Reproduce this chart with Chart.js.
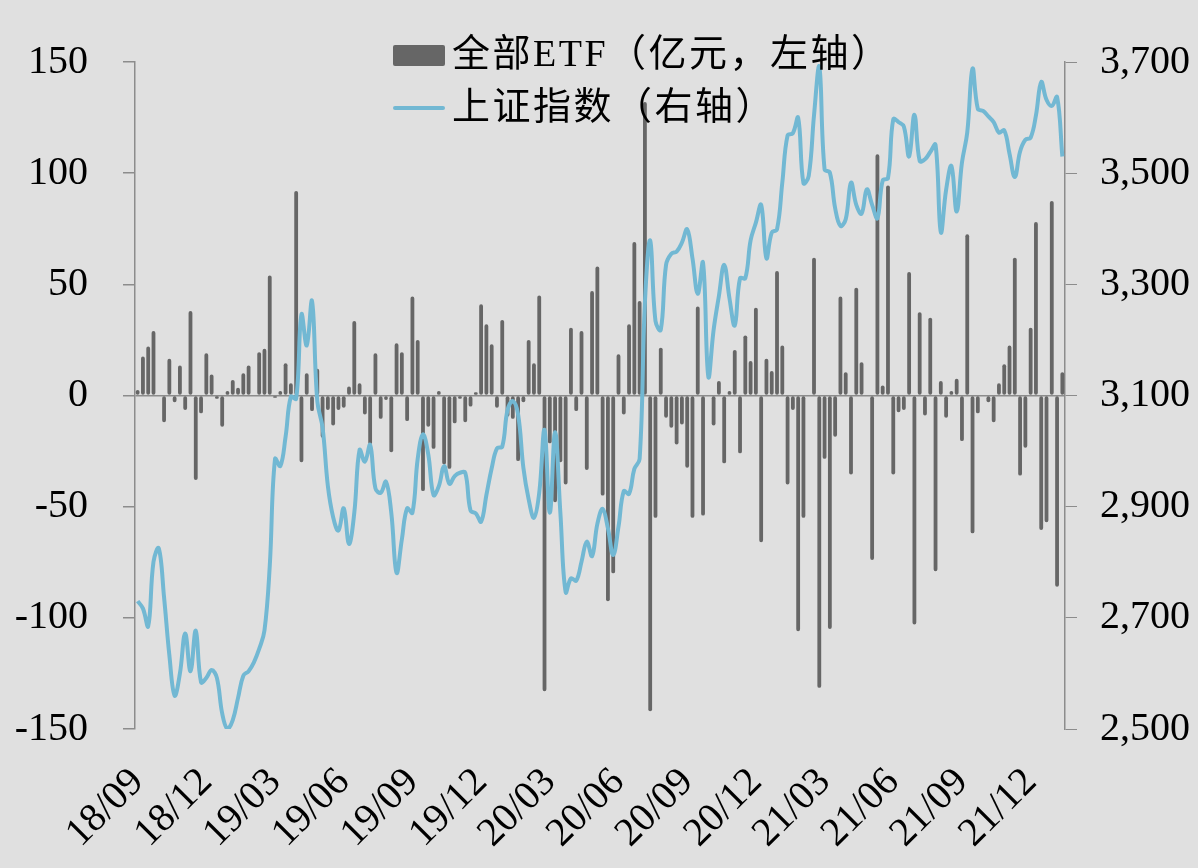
<!DOCTYPE html>
<html>
<head>
<meta charset="utf-8">
<script src="https://cdn.jsdelivr.net/npm/chart.js@4/dist/chart.umd.min.js"></script>
<style>
  body { margin: 0; background: #e0e0e0; }
  canvas { display: block; }
</style>
</head>
<body>
<canvas id="etfChart" width="1198" height="868"></canvas>
<script>
// 季度标签，每13周一个
const tickLabels = ['18/09', '18/12', '19/03', '19/06', '19/09', '19/12', '20/03',
  '20/06', '20/09', '20/12', '21/03', '21/06', '21/09', '21/12'];

// 全部ETF周度净流入（亿元）
const etfFlow = [
  2.5, 17.5, 22, 29, 0, -12, 16.5, -3, 13.5, -6.5,
  38, -38, -8, 19, 9.5, -1.5, -14, 2, 7, 3.5,
  10, 13.5, 0, 19.5, 21, 54, -1, 2, 14.5, 5.5,
  92, -30, 10, -7, 12, -19, -6.5, -13.5, -6.5, -5.5,
  4, 33.5, 5.5, -8.5, -22, 19, -10.5, -2, -25.5, 23.5,
  19.5, -11.5, 44.5, 25, -43, -14, -24, 2, -31, -33,
  -12.5, -1.5, -12, -5, 1.5, 41, 32, 23, -5.5, 34,
  -9.5, -10.5, -29.5, -3, 25, 14.5, 45, -133, -21.5, -48,
  -30, -40, 30.5, -7, 29, -33.5, 47, 58, -45, -92.5,
  -80, 18.5, -8.5, 32, 69, 42.5, 132, -142, -55, 21.5,
  -10, -14.5, -22, -13, -32.5, -55, 40, -54, 0, -13.5,
  6.5, -30.5, 2, 20.5, -26, 27, 15.5, 39.5, -66, 16.5,
  11, 56, 22.5, -40, -6.5, -106, -55, 0, 62, -131.5,
  -28.5, -105, -18.5, 44.5, 10.5, -35.5, 48.5, 15, 0, -74,
  108.5, 4.5, 94.5, -35.5, -7.5, -6.5, 55.5, -103, 37.5, -9,
  35, -79, 6.5, -10, 2, 7.5, -20.5, 72.5, -62, -8,
  0, -3, -12, 5.5, 14, 22.5, 62, -36, -23.5, 30.5,
  78, -60.5, -57, 87.5, -86, 10.5
];

// 上证指数周收盘
const shIndex = [
  2730, 2717, 2685, 2801, 2825, 2737, 2633, 2560, 2600, 2672,
  2604, 2677, 2584, 2592, 2606, 2592, 2528, 2500, 2516, 2556,
  2596, 2604, 2620, 2644, 2677, 2793, 2986, 2973, 3026, 3098,
  3094, 3246, 3190, 3270, 3090, 3042, 2937, 2881, 2857, 2897,
  2833, 2889, 3002, 2981, 3011, 2933, 2925, 2945, 2889, 2781,
  2841, 2897, 2889, 2986, 3030, 2994, 2921, 2937, 2973, 2941,
  2955, 2961, 2961, 2893, 2888, 2873, 2921, 2969, 3005, 3008,
  3074, 3090, 3066, 2970, 2913, 2880, 2925, 3038, 2889, 3034,
  2889, 2746, 2771, 2767, 2801, 2837, 2811, 2869, 2896, 2861,
  2813, 2864, 2928, 2923, 2968, 2986, 3267, 3379, 3234, 3218,
  3335, 3355, 3359, 3375, 3399, 3347, 3283, 3339, 3134, 3218,
  3279, 3335, 3275, 3226, 3311, 3311, 3379, 3411, 3443, 3347,
  3393, 3399, 3483, 3568, 3572, 3600, 3482, 3495, 3604, 3692,
  3507, 3501, 3437, 3405, 3417, 3483, 3443, 3427, 3471, 3443,
  3419, 3487, 3491, 3597, 3592, 3584, 3530, 3605, 3522, 3525,
  3538, 3551, 3394, 3470, 3513, 3431, 3519, 3573, 3688, 3616,
  3612, 3602, 3592, 3573, 3577, 3535, 3493, 3539, 3560, 3564,
  3604, 3664, 3632, 3621, 3637, 3530
];

const weeks = etfFlow.map((_, i) => (i % 13 === 0 ? tickLabels[i / 13] : ''));

const axisGray = '#8c8c8c';
const tickFont = { family: "'Liberation Serif', 'Times New Roman', serif", size: 40 };

// 整张画布的灰色底
const background = {
  id: 'background',
  beforeDraw(chart) {
    const { ctx, width, height } = chart;
    ctx.save();
    ctx.fillStyle = '#e0e0e0';
    ctx.fillRect(0, 0, width, height);
    ctx.restore();
  }
};

// 图例画在绘图区内，两行竖排
const stackedLegend = {
  id: 'stackedLegend',
  afterDatasetsDraw(chart) {
    const { ctx, chartArea } = chart;
    const [line, bars] = chart.data.datasets;
    const x = chartArea.left + 258;
    ctx.save();
    ctx.font = "38px 'Liberation Serif', 'Noto Sans CJK SC'";
    ctx.letterSpacing = '2.5px';
    ctx.textBaseline = 'middle';

    ctx.fillStyle = bars.backgroundColor;
    ctx.beginPath();
    ctx.roundRect(x, 45, 52, 21, 2);
    ctx.fill();
    ctx.fillStyle = '#000';
    ctx.fillText(bars.label, x + 59, 56);

    ctx.strokeStyle = line.borderColor;
    ctx.lineWidth = 4;
    ctx.lineCap = 'round';
    ctx.beginPath();
    ctx.moveTo(x + 2, 108);
    ctx.lineTo(x + 50, 108);
    ctx.stroke();
    ctx.fillText(line.label, x + 59, 109);
    ctx.restore();
  }
};

new Chart(document.getElementById('etfChart'), {
  data: {
    labels: weeks,
    datasets: [
      {
        type: 'line',
        label: '上证指数（右轴）',
        data: shIndex,
        yAxisID: 'y2',
        borderColor: '#72b8d3',
        borderWidth: 4,
        pointRadius: 0,
        tension: 0.4,
        order: 0
      },
      {
        type: 'bar',
        label: '全部ETF（亿元，左轴）',
        data: etfFlow,
        yAxisID: 'y',
        backgroundColor: '#666666',
        categoryPercentage: 1,
        barPercentage: 0.72,
        borderRadius: 2,
        borderSkipped: false,
        order: 1
      }
    ]
  },
  options: {
    responsive: false,
    animation: false,
    layout: { padding: { left: 15, right: 6, top: 62, bottom: 0 } },
    plugins: {
      legend: { display: false },
      tooltip: { enabled: false }
    },
    scales: {
      x: {
        grid: { display: false, drawTicks: false },
        border: { display: false },
        ticks: {
          autoSkip: false,
          minRotation: 45,
          maxRotation: 45,
          padding: 30,
          color: '#000',
          font: tickFont,
          callback: (value, i) => weeks[i]
        },
        // 斜排标签不额外占用左右边距，底部留固定高度
        afterFit(scale) {
          scale.paddingLeft = 0;
          scale.paddingRight = 0;
          scale.height = 139;
        }
      },
      y: {
        position: 'left',
        min: -150,
        max: 150,
        ticks: { stepSize: 50, padding: 35, color: '#000', font: tickFont },
        grid: {
          color: (c) => (c.tick && c.tick.value === 0 ? axisGray : 'transparent'),
          lineWidth: 1.5,
          tickColor: axisGray,
          tickLength: 12
        },
        border: { display: true, color: axisGray, width: 1.5 },
        afterFit(scale) { scale.width = 120; }
      },
      y2: {
        position: 'right',
        min: 2500,
        max: 3700,
        ticks: {
          stepSize: 200,
          padding: 23,
          color: '#000',
          font: tickFont,
          callback: (v) => v.toLocaleString('en-US')
        },
        grid: {
          drawOnChartArea: false,
          color: axisGray,
          tickColor: axisGray,
          tickLength: 12
        },
        border: { display: true, color: axisGray, width: 1.5 },
        afterFit(scale) { scale.width = 127; }
      }
    }
  },
  plugins: [background, stackedLegend]
});
</script>
</body>
</html>
